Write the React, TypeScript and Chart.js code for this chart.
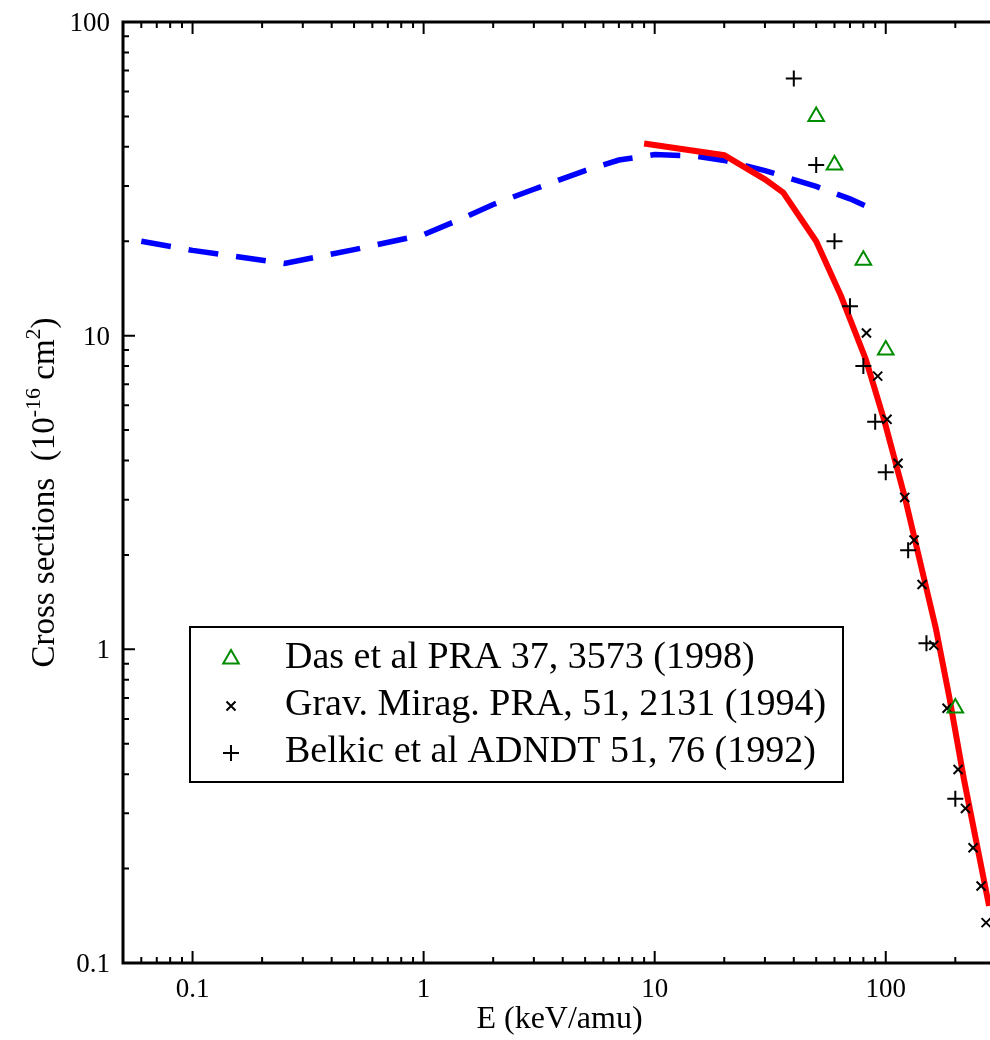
import React, { useEffect, useRef } from 'react';
import { Chart, registerables } from 'chart.js';

Chart.register(...registerables);

// ---- Data (energy in keV/amu, cross sections in 1e-16 cm^2) ----
const blueE = [0.06, 0.1, 0.25, 0.5, 1, 1.5, 2, 3, 5, 7, 10, 15, 20, 30, 50, 70, 88];
const blueSigma = [20, 18.7, 17, 18.8, 21, 23.8, 26.2, 29.3, 33.6, 36.3, 37.8, 37.4, 36.2, 33.6, 29.9, 27.3, 25.3];

const redE = [9, 20, 30, 36, 50, 64, 82, 99, 121, 165, 188, 218, 280];
const redSigma = [41, 37.6, 31.5, 28.6, 20, 13.4, 8.4, 5.3, 3.05, 1.16, 0.71, 0.385, 0.152];

const dasE = [50, 60, 80, 100, 200];
const dasSigma = [50, 35, 17.4, 9, 0.65];

const gravE = [82.5, 92.3, 101.3, 113, 120.8, 132.6, 143.6, 161.5, 184.2, 205.6, 221.3, 238.7, 258.6, 271.8];
const gravSigma = [10.2, 7.43, 5.41, 3.92, 3.05, 2.23, 1.61, 1.03, 0.649, 0.414, 0.311, 0.233, 0.176, 0.1345];

const belkicE = [40, 50, 60, 70, 80, 90, 100, 125, 150, 200];
const belkicSigma = [66, 35, 20, 12.4, 8, 5.32, 3.67, 2.07, 1.045, 0.334];

const xTickValues = [0.1, 1, 10, 100];
const xTickLabels = ['0.1', '1', '10', '100'];
const yTickValues = [0.1, 1, 10, 100];
const yTickLabels = ['0.1', '1', '10', '100'];

const legendLabels = [
  'Das et al PRA 37, 3573 (1998)',
  'Grav. Mirag. PRA, 51, 2131 (1994)',
  'Belkic et al ADNDT 51, 76 (1992)',
];

const xTitle = 'E (keV/amu)';
const yTitleParts = [
  { t: 'Cross sections  (10', sup: false },
  { t: '-16', sup: true },
  { t: ' cm', sup: false },
  { t: '2', sup: true },
  { t: ')', sup: false },
];

const FONT = '"Liberation Serif", "Times New Roman", serif';
const GREEN = '#008c00';

const pts = (xs: number[], ys: number[]) => xs.map((x, i) => ({ x, y: ys[i] }));

function drawMarker(ctx: CanvasRenderingContext2D, kind: string, x: number, y: number) {
  ctx.save();
  ctx.lineWidth = 2;
  ctx.beginPath();
  if (kind === 'triangle') {
    const r = 9;
    ctx.strokeStyle = GREEN;
    ctx.moveTo(x, y - r);
    ctx.lineTo(x + r * Math.sin((2 * Math.PI) / 3), y - r * Math.cos((2 * Math.PI) / 3));
    ctx.lineTo(x + r * Math.sin((4 * Math.PI) / 3), y - r * Math.cos((4 * Math.PI) / 3));
    ctx.closePath();
  } else if (kind === 'crossRot') {
    const d = 4.5;
    ctx.strokeStyle = '#000';
    ctx.moveTo(x - d, y - d);
    ctx.lineTo(x + d, y + d);
    ctx.moveTo(x - d, y + d);
    ctx.lineTo(x + d, y - d);
  } else {
    const d = 8;
    ctx.strokeStyle = '#000';
    ctx.moveTo(x - d, y);
    ctx.lineTo(x + d, y);
    ctx.moveTo(x, y - d);
    ctx.lineTo(x, y + d);
  }
  ctx.stroke();
  ctx.restore();
}

const framePlugin = {
  id: 'frame',
  afterDraw(chart: any) {
    const ctx: CanvasRenderingContext2D = chart.ctx;
    const xs = chart.scales.x;
    const ys = chart.scales.y;
    const { left, right, top, bottom } = chart.chartArea;
    ctx.save();
    ctx.strokeStyle = '#000';
    ctx.fillStyle = '#000';

    // axes lines
    ctx.lineWidth = 3;
    ctx.beginPath();
    ctx.moveTo(right + 2, top);
    ctx.lineTo(left, top);
    ctx.lineTo(left, bottom);
    ctx.lineTo(right + 2, bottom);
    ctx.stroke();

    // ticks
    ctx.lineWidth = 2;
    ctx.beginPath();
    for (let d = -2; d <= 2; d++) {
      for (let m = 1; m <= 9; m++) {
        const v = m * Math.pow(10, d);
        const len = m === 1 ? 12 : 6;
        if (v >= xs.min * 0.999 && v <= xs.max * 1.001) {
          const px = xs.getPixelForValue(v);
          ctx.moveTo(px, bottom);
          ctx.lineTo(px, bottom - len);
          ctx.moveTo(px, top);
          ctx.lineTo(px, top + len);
        }
        if (v >= ys.min * 0.999 && v <= ys.max * 1.001) {
          const py = ys.getPixelForValue(v);
          ctx.moveTo(left, py);
          ctx.lineTo(left + len, py);
        }
      }
    }
    ctx.stroke();

    // tick labels
    ctx.font = `27px ${FONT}`;
    ctx.textBaseline = 'alphabetic';
    ctx.textAlign = 'center';
    xTickValues.forEach((v, i) => {
      ctx.fillText(xTickLabels[i], xs.getPixelForValue(v), bottom + 34);
    });
    ctx.textAlign = 'right';
    yTickValues.forEach((v, i) => {
      ctx.fillText(yTickLabels[i], left - 13, ys.getPixelForValue(v) + 9);
    });

    // x title
    ctx.font = `32px ${FONT}`;
    ctx.textAlign = 'center';
    ctx.fillText(xTitle, (left + right) / 2, bottom + 65);

    // y title (rotated, with superscripts)
    ctx.save();
    ctx.translate(54, (top + bottom) / 2);
    ctx.rotate(-Math.PI / 2);
    ctx.textAlign = 'left';
    const big = `33px ${FONT}`;
    const small = `22px ${FONT}`;
    let total = 0;
    yTitleParts.forEach((p) => {
      ctx.font = p.sup ? small : big;
      total += ctx.measureText(p.t).width;
    });
    let cx = -total / 2;
    yTitleParts.forEach((p) => {
      ctx.font = p.sup ? small : big;
      ctx.fillText(p.t, cx, p.sup ? -14 : 0);
      cx += ctx.measureText(p.t).width;
    });
    ctx.restore();

    // legend
    const bx = 190, by = 627, bw = 653, bh = 155;
    ctx.fillStyle = '#fff';
    ctx.fillRect(bx, by, bw, bh);
    ctx.lineWidth = 2;
    ctx.strokeStyle = '#000';
    ctx.strokeRect(bx, by, bw, bh);
    const kinds = ['triangle', 'crossRot', 'cross'];
    const baselines = [668, 715, 762];
    ctx.fillStyle = '#000';
    ctx.font = `38px ${FONT}`;
    ctx.textAlign = 'left';
    legendLabels.forEach((lab, i) => {
      drawMarker(ctx, kinds[i], 231, baselines[i] - 9);
      ctx.fillText(lab, 285, baselines[i]);
    });

    ctx.restore();
  },
};

export default function App() {
  const ref = useRef<HTMLCanvasElement | null>(null);

  useEffect(() => {
    document.body.style.margin = '0';
    const canvas = ref.current;
    if (!canvas) return;
    const chart = new Chart(canvas, {
      type: 'scatter',
      data: {
        datasets: [
          {
            label: legendLabels[0],
            data: pts(dasE, dasSigma),
            pointStyle: 'triangle',
            pointRadius: 9,
            pointBorderWidth: 2,
            pointBorderColor: GREEN,
            pointBackgroundColor: 'rgba(0,0,0,0)',
            showLine: false,
            order: 0,
          },
          {
            label: legendLabels[1],
            data: pts(gravE, gravSigma),
            pointStyle: 'crossRot',
            pointRadius: 6.4,
            pointBorderWidth: 2,
            pointBorderColor: '#000',
            showLine: false,
            order: 0,
          },
          {
            label: legendLabels[2],
            data: pts(belkicE, belkicSigma),
            pointStyle: 'cross',
            pointRadius: 8,
            pointBorderWidth: 2,
            pointBorderColor: '#000',
            showLine: false,
            order: 0,
          },
          {
            label: 'theory (solid)',
            data: pts(redE, redSigma),
            showLine: true,
            borderColor: '#ff0000',
            borderWidth: 6,
            pointRadius: 0,
            tension: 0,
            order: 1,
          },
          {
            label: 'theory (dashed)',
            data: pts(blueE, blueSigma),
            showLine: true,
            borderColor: '#0000ff',
            borderWidth: 5.5,
            borderDash: [30, 18],
            borderCapStyle: 'butt',
            pointRadius: 0,
            tension: 0,
            order: 2,
          },
        ],
      },
      options: {
        animation: false,
        responsive: false,
        devicePixelRatio: 1,
        layout: { autoPadding: false, padding: { left: 123, top: 22, right: 4, bottom: 77 } },
        plugins: {
          legend: { display: false },
          tooltip: { enabled: false },
          title: { display: false },
        },
        scales: {
          x: { type: 'logarithmic', min: 0.05, max: 300, display: false },
          y: { type: 'logarithmic', min: 0.1, max: 100, display: false },
        },
      } as any,
      plugins: [framePlugin],
    });
    return () => chart.destroy();
  }, []);

  return (
    <div style={{ width: 990, height: 1040, overflow: 'hidden', position: 'relative', background: '#fff' }}>
      <canvas ref={ref} width={1000} height={1040} style={{ width: 1000, height: 1040, display: 'block' }} />
    </div>
  );
}
